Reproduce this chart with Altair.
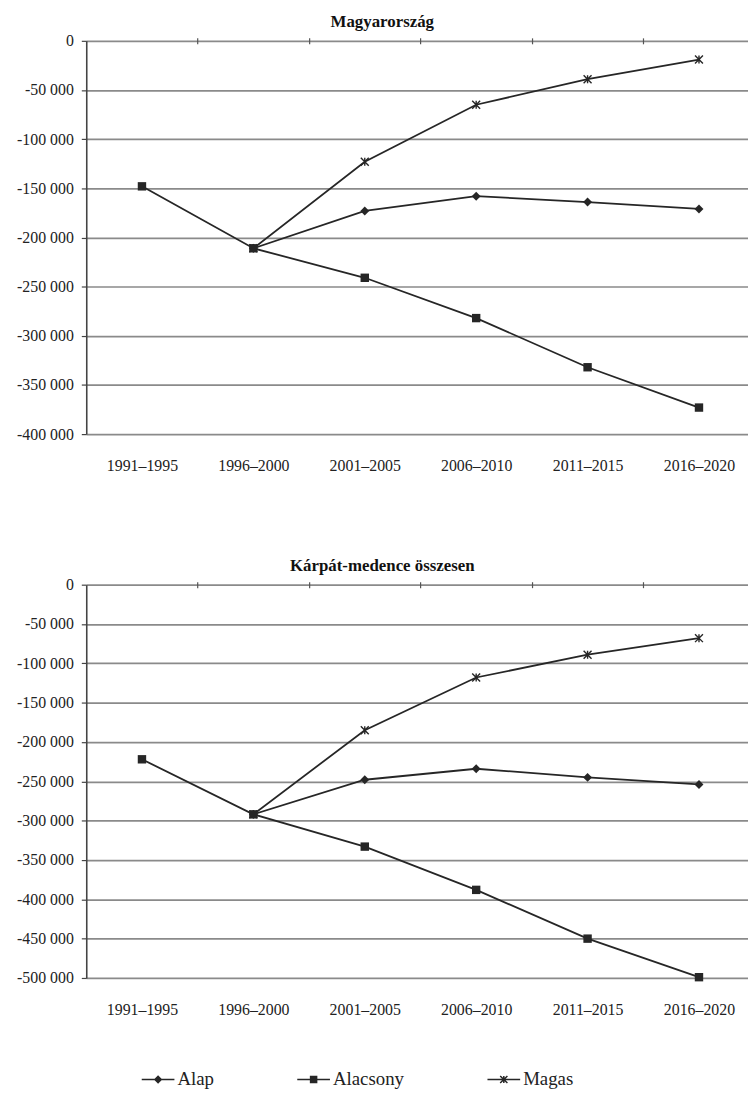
import altair as alt
import pandas as pd

periods = ["1991–1995", "1996–2000", "2001–2005", "2006–2010", "2011–2015", "2016–2020"]
series = ["Alap", "Alacsony", "Magas"]

# Magyarország
hu_alap = [None, -211000, -173000, -158000, -164000, -171000]
hu_alacsony = [-148000, -211000, -241000, -282000, -332000, -373000]
hu_magas = [None, -211000, -123000, -65000, -39000, -19000]

# Kárpát-medence összesen
kp_alap = [None, -292000, -248000, -234000, -245000, -254000]
kp_alacsony = [-222000, -292000, -333000, -388000, -450000, -499000]
kp_magas = [None, -292000, -185000, -118000, -89000, -68000]

titles = ["Magyarország", "Kárpát-medence összesen"]
y_minimums = [-400000, -500000]

rows = []
for region, vals in [
    ("hu", {"Alap": hu_alap, "Alacsony": hu_alacsony, "Magas": hu_magas}),
    ("kp", {"Alap": kp_alap, "Alacsony": kp_alacsony, "Magas": kp_magas}),
]:
    for s in series:
        for i, v in enumerate(vals[s]):
            if v is not None:
                rows.append({"region": region, "series": s, "idx": i, "period": periods[i], "value": v})
df = pd.DataFrame(rows)

INK = "#262626"
SERIF = "Liberation Serif, Times New Roman, serif"

# marker shapes (unit paths)
P_DIAMOND = "M-1,0L0,-1L1,0L0,1Z"
P_SQUARE = "M-1,-1L1,-1L1,1L-1,1Z"
P_STAR = "M-1,-1L1,1M-1,1L1,-1M0,-1L0,1"


# legend symbols drawn purely with fills: a thin bar (the line) plus the marker
def _f(v):
    return f"{v:.3f}"


H = 0.05   # half thickness of the legend line (unit = half symbol width)
LINE = f"M-1,{_f(-H)}L1,{_f(-H)}L1,{_f(H)}L-1,{_f(H)}Z"
a, t = 0.22, 0.045
d = t / 2 ** 0.5
STAR_FILL = (
    f"M{_f(-a + d)},{_f(-a - d)}L{_f(a + d)},{_f(a - d)}L{_f(a - d)},{_f(a + d)}L{_f(-a - d)},{_f(-a + d)}Z"
    f"M{_f(-a - d)},{_f(a - d)}L{_f(a - d)},{_f(-a - d)}L{_f(a + d)},{_f(-a + d)}L{_f(-a + d)},{_f(a + d)}Z"
    f"M{_f(t)},{_f(-a)}L{_f(t)},{_f(a)}L{_f(-t)},{_f(a)}L{_f(-t)},{_f(-a)}Z"
)
L_DIAMOND = LINE + "M-0.26,0L0,-0.26L0.26,0L0,0.26Z"
L_SQUARE = LINE + "M-0.23,-0.23L0.23,-0.23L0.23,0.23L-0.23,0.23Z"
L_STAR = LINE + STAR_FILL

label_array = "[" + ",".join("'" + p + "'" for p in periods) + "]"
x_scale = alt.Scale(domain=[-0.5, 5.44], nice=False, zero=False)


def panel(region, title, ymin, with_legend):
    d_ = df[df.region == region]
    base = alt.Chart(d_)
    y = alt.Y(
        "value:Q",
        scale=alt.Scale(domain=[ymin, 0], nice=False, zero=False),
        axis=alt.Axis(
            values=list(range(0, ymin - 1, -50000)),
            labelExpr="datum.value == 0 ? '0' : '-' + replace(format(-datum.value, ','), ',', ' ')",
            title=None,
            grid=True, gridColor="#8a8a8a", gridWidth=1.7,
            domain=True, domainColor="#444", domainWidth=1.6,
            ticks=True, tickSize=5, tickColor="#444", tickWidth=1.2,
            labelFont=SERIF, labelFontSize=16, labelColor="#222", labelPadding=8,
        ),
    )
    x_bottom = alt.X(
        "idx:Q", scale=x_scale,
        axis=alt.Axis(
            values=list(range(len(periods))), labelExpr=label_array + "[datum.value]",
            title=None, grid=False, domain=False, ticks=False, tickSize=0,
            labelFont=SERIF, labelFontSize=16, labelColor="#222", labelPadding=24,
        ),
    )
    x_top = alt.X(
        "idx:Q", scale=x_scale,
        axis=alt.Axis(
            orient="top", values=[0.5, 1.5, 2.5, 3.5, 4.5], labels=False, title=None,
            grid=False, domain=False, ticks=True, tickSize=6, tickColor="#555",
            tickWidth=1.2, offset=-3,
        ),
    )
    x_none = alt.X("idx:Q", scale=x_scale, axis=None)

    lines = base.mark_line(color=INK, strokeWidth=1.8).encode(
        x=x_bottom, y=y, detail="series:N", order="idx:Q"
    )
    alap_pts = base.transform_filter(alt.datum.series == "Alap").mark_point(
        shape=P_DIAMOND, size=81, filled=True, color=INK, opacity=1
    ).encode(x=x_top, y=y)
    magas_pts = base.transform_filter(alt.datum.series == "Magas").mark_point(
        shape=P_STAR, size=64, filled=False, color=INK, strokeWidth=1.4, opacity=1
    ).encode(x=x_none, y=y)
    alac_pts = base.transform_filter(alt.datum.series == "Alacsony").mark_point(
        shape=P_SQUARE, size=72, filled=True, color=INK, opacity=1
    ).encode(x=x_none, y=y)

    layers = [lines, alap_pts, magas_pts, alac_pts]
    if with_legend:
        legend_layer = base.transform_filter("false").mark_point(
            filled=True, color=INK, opacity=1
        ).encode(
            shape=alt.Shape(
                "series:N",
                scale=alt.Scale(domain=series, range=[L_DIAMOND, L_SQUARE, L_STAR]),
                legend=alt.Legend(
                    orient="none", legendX=56, legendY=483, direction="horizontal",
                    title=None, labelFont=SERIF, labelFontSize=19, labelColor="#222",
                    symbolSize=1089, symbolStrokeWidth=0,
                    symbolFillColor=INK, symbolOpacity=1, labelOffset=3,
                    columnPadding=84, padding=0, gridAlign="none",
                ),
            )
        )
        layers.append(legend_layer)

    return alt.layer(*layers).resolve_axis(x="independent").properties(
        width=668, height=397,
        title=alt.Title(title, font=SERIF, fontSize=17, fontWeight="bold",
                        color="#111", anchor="middle", frame="bounds", offset=2),
    )


chart = alt.vconcat(
    panel("hu", titles[0], y_minimums[0], False),
    panel("kp", titles[1], y_minimums[1], True),
    spacing=84,
).resolve_legend(shape="independent").properties(
    padding={"left": 8, "top": 0, "right": 0, "bottom": 0},
    background="white",
).configure_view(stroke=None)

chart.save("out.html", embed_options={"renderer": "svg", "actions": False})
